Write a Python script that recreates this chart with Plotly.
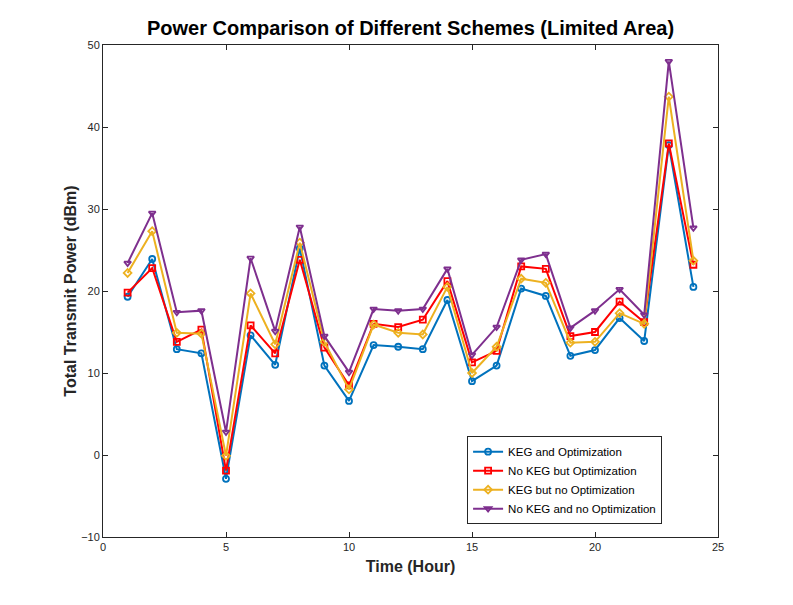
import plotly.graph_objects as go

hours = list(range(1, 25))
keg_opt = [19.3, 23.9, 12.9, 12.4, -2.9, 14.6, 11.0, 25.2, 10.9, 6.6, 13.4, 13.2, 12.9, 18.9, 9.0, 10.9, 20.3, 19.4, 12.1, 12.8, 16.7, 13.9, 37.8, 20.5]
nokeg_opt = [19.8, 22.8, 13.8, 15.3, -1.9, 15.8, 12.4, 23.8, 13.1, 8.5, 16.0, 15.6, 16.5, 21.2, 11.3, 12.7, 23.0, 22.7, 14.5, 15.0, 18.7, 16.2, 38.0, 23.2]
keg_noopt = [22.2, 27.3, 14.9, 14.8, -0.1, 19.7, 13.5, 25.9, 13.8, 8.0, 15.9, 14.9, 14.7, 20.5, 10.0, 13.2, 21.5, 21.0, 13.7, 13.8, 17.3, 16.0, 43.7, 23.7]
nokeg_noopt = [23.4, 29.5, 17.4, 17.6, 2.8, 24.0, 15.1, 27.8, 14.5, 10.1, 17.8, 17.6, 17.8, 22.7, 12.2, 15.6, 23.8, 24.5, 15.5, 17.6, 20.2, 17.1, 48.0, 27.7]

names = ["KEG and Optimization", "No KEG but Optimization", "KEG but no Optimization", "No KEG and no Optimization"]
series = [keg_opt, nokeg_opt, keg_noopt, nokeg_noopt]
colors = ["#0072BD", "#FF0000", "#EDB120", "#7E2F8E"]
symbols = ["circle-open", "square-open", "diamond-open", "triangle-down-open"]

FONT = "Liberation Sans, Arial, sans-serif"

fig = go.Figure()
for n, s, c, m in zip(names, series, colors, symbols):
    fig.add_trace(go.Scatter(
        x=hours, y=s, name=n, mode="lines+markers",
        line=dict(color=c, width=2),
        marker=dict(symbol=m, size=6, color=c, line=dict(color=c, width=1.8)),
    ))

axis_common = dict(
    showgrid=False, zeroline=False, showline=True, linecolor="#262626", linewidth=1,
    mirror="ticks", ticks="inside", ticklen=5, tickcolor="#262626",
    tickfont=dict(family=FONT, size=11, color="#262626"),
)

fig.update_layout(
    width=793, height=605,
    paper_bgcolor="white", plot_bgcolor="white",
    margin=dict(l=95, r=83, t=37, b=76),
    title=dict(text="<b>Power Comparison of Different Schemes (Limited Area)</b>",
               xref="paper", x=0.5, xanchor="center", y=0.967, yanchor="middle",
               font=dict(family=FONT, size=20, color="black")),
    xaxis=dict(range=[0, 25], tickvals=[0, 5, 10, 15, 20, 25],
               title=dict(text="<b>Time (Hour)</b>", standoff=8,
                          font=dict(family=FONT, size=16, color="#262626")),
               **axis_common),
    yaxis=dict(range=[-10, 50], tickvals=[-10, 0, 10, 20, 30, 40, 50],
               title=dict(text="<b>Total Transmit Power (dBm)</b>", standoff=0,
                          font=dict(family=FONT, size=16, color="#262626")),
               **axis_common),
    legend=dict(x=0.592, y=0.205, xanchor="left", yanchor="top",
                bgcolor="white", bordercolor="#262626", borderwidth=1,
                font=dict(family=FONT, size=11.5, color="black"),
                tracegroupgap=0, itemwidth=30),
    showlegend=True,
)

fig.write_html("out.html")
